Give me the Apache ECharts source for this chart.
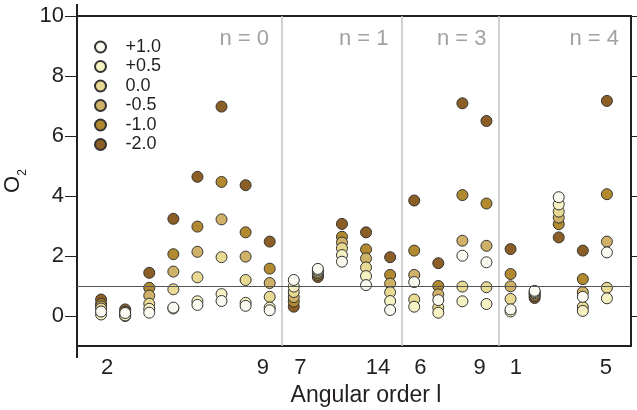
<!DOCTYPE html>
<html><head><meta charset="utf-8">
<script src="https://cdn.jsdelivr.net/npm/echarts@6/dist/echarts.min.js"></script>
<style>html,body{margin:0;padding:0;background:#fff}#c{width:637px;height:410px}</style>
</head><body><div id="c"></div>
<script>
// column positions (one column per plotted angular order)
const columns = [1,2,3,4,5,6,7,8,9,10,11,12,13,14,15,16,17,18,19,20,21,22];
// series (drawn from darkest to lightest so lighter circles sit on top)
const seriesNames = ['-2.0','-1.0','-0.5','0.0','+0.5','+1.0'];
const legendOrder = ['+1.0','+0.5','0.0','-0.5','-1.0','-2.0'];
const valsM20 = [0.55,0.22,1.44,3.24,4.64,6.98,4.36,2.48,0.31,1.30,3.07,2.79,1.96,3.85,1.76,7.09,6.50,2.23,0.60,2.62,2.18,7.17];
const valsM10 = [0.40,0.14,0.94,2.06,2.98,4.47,2.79,1.58,0.48,1.37,2.64,2.22,1.37,2.18,1.00,4.03,3.75,1.40,0.66,3.06,1.23,4.06];
const valsM05 = [0.32,0.06,0.68,1.48,2.14,3.22,1.98,1.10,0.63,1.42,2.45,1.92,1.08,1.37,0.72,2.51,2.34,0.99,0.71,3.28,0.79,2.48];
const vals00  = [0.25,0.00,0.41,0.89,1.29,1.96,1.20,0.64,0.80,1.47,2.26,1.62,0.79,0.55,0.28,0.98,0.96,0.57,0.76,3.48,0.30,0.94];
const valsP05 = [0.05,0.02,0.24,0.25,0.49,0.73,0.44,0.28,0.98,1.52,2.03,1.33,0.50,0.31,0.11,0.49,0.40,0.15,0.80,3.72,0.17,0.59];
const valsP10 = [0.15,0.10,0.11,0.28,0.37,0.50,0.34,0.19,1.20,1.57,1.81,1.03,0.20,1.13,0.53,2.01,1.79,0.22,0.84,3.96,0.64,2.12];
const seriesValues = [valsM20, valsM10, valsM05, vals00, valsP05, valsP10];
const seriesColors = ['#8b5e26','#b18a30','#cfb167','#e8d993','#f6f1c3','#fbfaf1'];
// tick labels
const xTickLabels = ['2','9','7','14','6','9','1','5'];
const xTickValues = [1.25,7.72,9.27,12.5,14.26,16.72,18.22,21.96];
const yTicks = [0,2,4,6,8,10];
// groups
const groupNames = ['n = 0','n = 1','n = 3','n = 4'];
const groupLabelX = [7.97,12.93,17.0,22.5];
const groupLabelY = 9.22;
const groupBounds = [8.5,13.5,17.5];
const refLineY = 1;

const FONT = 'Liberation Sans, Arial, Helvetica, sans-serif';
const DARK = '#231f20';

const chart = echarts.init(document.getElementById('c'), null, {renderer:'canvas'});

const series = seriesNames.map((name, k) => ({
  name: name,
  type: 'scatter',
  symbol: 'circle',
  symbolSize: 11,
  z: 2,
  itemStyle: {color: seriesColors[k], borderColor: '#333', borderWidth: 1, opacity: 1},
  data: columns.map((c, i) => [c, seriesValues[k][i]])
}));

series.push({
  name: 'groups',
  type: 'scatter',
  symbolSize: 0,
  silent: true,
  z: 1,
  data: groupLabelX.map((x, i) => ({value: [x, groupLabelY], name: groupNames[i]})),
  label: {show: true, position: 'left', distance: 0, formatter: '{b}', color: '#8a8a8a', fontSize: 22, fontFamily: FONT},
  markLine: {
    silent: true,
    symbol: ['none','none'],
    animation: false,
    label: {show: false},
    data: groupBounds.map(b => ({xAxis: b, lineStyle: {color: '#c4c4c4', width: 1.5, type: 'solid'}}))
      .concat([{yAxis: refLineY, lineStyle: {color: '#555', width: 1, type: 'solid'}}])
  }
});

const option = {
  animation: false,
  textStyle: {fontFamily: FONT},
  grid: {left: 77, right: 6, top: 16, bottom: 64, show: false, containLabel: false, outerBoundsMode: 'none'},
  legend: {
    data: legendOrder,
    orient: 'vertical',
    left: 94, top: 38, padding: 0,
    itemWidth: 12, itemHeight: 11, itemGap: 1.5,
    icon: 'circle',
    textStyle: {fontSize: 18, lineHeight: 18, color: DARK, fontFamily: FONT, padding: [0,0,0,14]},
    selectedMode: false
  },
  xAxis: [{
    type: 'value', min: 0, max: 23, position: 'bottom',
    axisLine: {show: true, onZero: false, lineStyle: {color: DARK, width: 2}},
    axisTick: {show: true, customValues: [0], length: 12, lineStyle: {color: DARK, width: 2}},
    axisLabel: {
      customValues: xTickValues,
      formatter: v => { const i = xTickValues.findIndex(t => Math.abs(t - v) < 1e-6); return i >= 0 ? xTickLabels[i] : ''; },
      fontSize: 22, color: DARK, margin: 11, fontFamily: FONT
    },
    splitLine: {show: false},
    name: 'Angular order l', nameLocation: 'middle', nameGap: 38,
    nameTextStyle: {fontSize: 23, color: DARK, padding: [0,0,0,24], fontFamily: FONT}
  }, {
    type: 'value', min: 0, max: 23, position: 'top',
    axisLine: {show: true, onZero: false, lineStyle: {color: DARK, width: 2}},
    axisTick: {show: true, customValues: [0], length: 12, lineStyle: {color: DARK, width: 2}},
    axisLabel: {show: false},
    splitLine: {show: false}
  }],
  yAxis: [{
    type: 'value', min: -1, max: 10, position: 'left',
    axisLine: {show: true, onZero: false, lineStyle: {color: DARK, width: 2}},
    axisTick: {show: true, customValues: yTicks, length: 12, lineStyle: {color: DARK, width: 1}},
    axisLabel: {customValues: yTicks, fontSize: 22, color: DARK, margin: 13, fontFamily: FONT},
    splitLine: {show: false},
    name: '{o|O}{s|2}', nameLocation: 'middle', nameGap: 42,
    nameTextStyle: {color: DARK, fontFamily: FONT, rich: {
      o: {fontSize: 22, color: DARK, fontFamily: FONT, verticalAlign: 'top', padding: [0,0,5,0]},
      s: {fontSize: 12, color: DARK, fontFamily: FONT, verticalAlign: 'bottom'}
    }}
  }, {
    type: 'value', min: -1, max: 10, position: 'right',
    axisLine: {show: true, onZero: false, lineStyle: {color: DARK, width: 2}},
    axisTick: {show: true, customValues: yTicks, length: 7, lineStyle: {color: DARK, width: 1}},
    axisLabel: {show: false},
    splitLine: {show: false}
  }],
  series: series
};
chart.setOption(option);
</script></body></html>
